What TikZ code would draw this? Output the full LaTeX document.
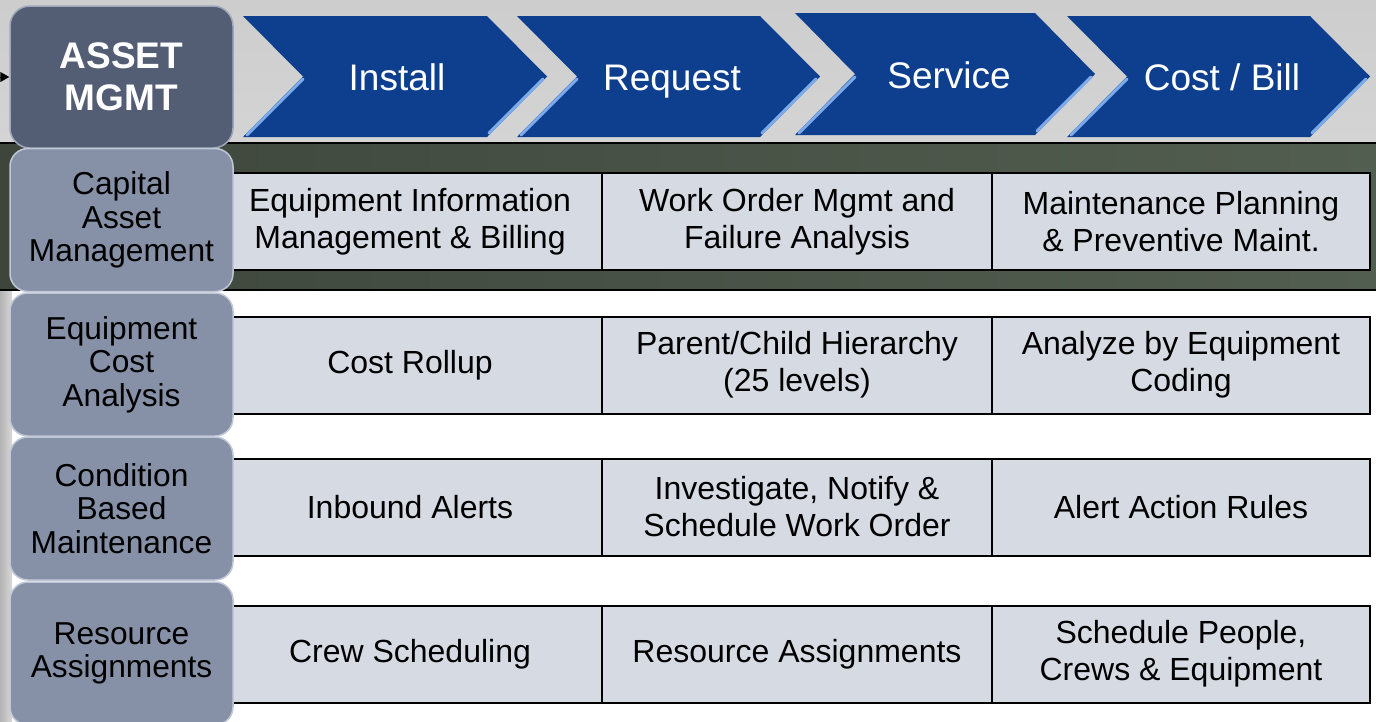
\documentclass[tikz,border=0pt]{standalone}
\usepackage{fontspec}
\setmainfont{Liberation Sans}
\usetikzlibrary{arrows.meta}

\definecolor{chevblue}{RGB}{14,62,142}
\definecolor{bevelblue}{RGB}{125,170,232}
\definecolor{assetgray}{RGB}{83,93,116}
\definecolor{labelgray}{RGB}{134,145,168}
\definecolor{labelrim}{RGB}{192,200,216}
\definecolor{cellgray}{RGB}{214,218,227}
\definecolor{banddark}{RGB}{62,70,60}
\definecolor{bandlight}{RGB}{82,94,80}
\definecolor{silvertop}{RGB}{205,205,205}
\definecolor{silvermid}{RGB}{246,246,246}
\definecolor{silverbot}{RGB}{212,212,212}

\begin{document}
\begin{tikzpicture}[x=1pt,y=-1pt,
    chev/.style={fill=chevblue},
    bevel/.style={bevelblue,line width=3pt,line cap=round},
    stage/.style={anchor=base,text=white,font=\fontsize{37}{42}\selectfont},
    rowlabel/.style={rounded corners=18pt,fill=labelgray,draw=labelrim,line width=1.5pt,
        minimum width=223pt,minimum height=143pt,inner sep=0pt,align=center,
        font=\fontsize{31.7}{33.5}\selectfont},
    cell/.style={draw=black,line width=2pt,fill=cellgray,minimum height=97pt,inner sep=0pt,
        align=center,font=\fontsize{32}{37}\selectfont}]

    \useasboundingbox (0,0) rectangle (1376,721);

    % silver strip behind the chevrons, band behind first row
    \fill[top color=silvertop,middle color=silvermid,bottom color=silverbot] (0,0) rectangle (1376,143);
    \fill[white] (0,143) rectangle (1376,721);
    \fill[left color=gray!60,right color=gray!30] (0,290) rectangle (12,721);
    \fill[left color=banddark,right color=bandlight] (0,143) rectangle (1376,290);
    \draw[line width=2pt] (0,143) -- (1376,143);
    \draw[line width=2pt] (0,290) -- (1376,290);

    % chevrons
    \fill[chev] (243,16) -- (487,16) -- (547,76.5) -- (487,137) -- (243,137) -- (303,76.5) -- cycle;
    \draw[bevel] (303,79) -- (247,135);
    \draw[bevel] (543,79) -- (489,133);
    \node[stage] (install) at (397,90) {Install};

    \fill[chev] (517,16) -- (760,16) -- (820,76.5) -- (760,137) -- (517,137) -- (577,76.5) -- cycle;
    \draw[bevel] (577,79) -- (521,135);
    \draw[bevel] (816,79) -- (762,133);
    \node[stage] (request) at (672,90) {Request};

    \fill[chev] (795,13) -- (1035,13) -- (1095,74) -- (1035,135) -- (795,135) -- (855,74) -- cycle;
    \draw[bevel] (855,77) -- (799,133);
    \draw[bevel] (1091,77) -- (1037,131);
    \node[stage] (service) at (949,88) {Service};

    \fill[chev] (1067,16) -- (1310,16) -- (1370,76.5) -- (1310,137) -- (1067,137) -- (1127,76.5) -- cycle;
    \draw[bevel] (1127,79) -- (1071,135);
    \draw[bevel] (1366,79) -- (1312,133);
    \node[stage] (costbill) at (1222,90) {Cost / Bill};

    \node[rounded corners=20pt,fill=assetgray,draw=labelrim!70!assetgray,line width=1.5pt,
        minimum width=223pt,minimum height=142pt,inner sep=0pt,align=center,text=white,
        font=\bfseries\fontsize{37}{42}\selectfont] (asset) at (121.5,77) {ASSET\\MGMT};
    \coordinate (feed) at (-6,77);
    \draw[-{Triangle[length=9pt,width=10pt]},line width=1pt] (feed) -- (asset.west);

    % row 1
    \node[cell,minimum width=384pt] (equipinfo) at (410,221.5) {Equipment Information\\Management \& Billing};
    \node[cell,minimum width=390pt] (workorder) at (797,221.5) {Work Order Mgmt and\\Failure Analysis};
    \node[cell,minimum width=378pt] (maintplan) at (1181,221.5) {Maintenance Planning\\\& Preventive Maint.};
    % row 2
    \node[cell,minimum width=384pt] (rollup) at (410,365) {Cost Rollup};
    \node[cell,minimum width=390pt] (hierarchy) at (797,365) {Parent/Child Hierarchy\\(25 levels)};
    \node[cell,minimum width=378pt] (coding) at (1181,365) {Analyze by Equipment\\Coding};
    % row 3
    \node[cell,minimum width=384pt] (inbound) at (410,507) {Inbound Alerts};
    \node[cell,minimum width=390pt] (investigate) at (797,507) {Investigate, Notify \&\\Schedule Work Order};
    \node[cell,minimum width=378pt] (rules) at (1181,507) {Alert Action Rules};
    % row 4
    \node[cell,minimum width=384pt] (crew) at (410,654) {Crew Scheduling};
    \node[cell,minimum width=390pt] (assign) at (797,654) {Resource Assignments};
    \node[cell,minimum width=378pt] (people) at (1181,654) {Schedule People,\\Crews \& Equipment};

    \node[rowlabel] (capital) at (121.5,220) {Capital\\Asset\\Management};
    \node[rowlabel] (equipcost) at (121.5,364.5) {Equipment\\Cost\\Analysis};
    \node[rowlabel] (condition) at (121.5,508.5) {Condition\\Based\\Maintenance};
    \node[rowlabel] (resource) at (121.5,653.5) {Resource\\Assignments};
%    \node[rowlabel] at (121.5,797) {};

\end{tikzpicture}
\end{document}
